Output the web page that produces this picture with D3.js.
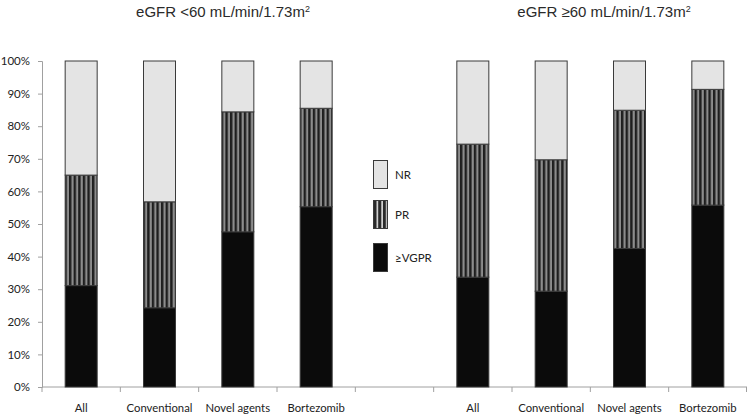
<!DOCTYPE html>
<html>
<head>
<meta charset="utf-8">
<script src="https://cdn.jsdelivr.net/npm/d3@7"></script>
<style>
  html, body { margin: 0; padding: 0; background: #fff; }
  svg { display: block; }
</style>
</head>
<body>
<svg id="chart" width="747" height="417"></svg>
<script>
// ---- Data ----
const categories = ["All", "Conventional", "Novel agents", "Bortezomib", "", "All ", "Conventional ", "Novel agents ", "Bortezomib "];
const tickLabels = ["All", "Conventional", "Novel agents", "Bortezomib", "", "All", "Conventional", "Novel agents", "Bortezomib"];
const vgpr = [31.1, 24.3, 47.6, 55.3, null, 33.7, 29.4, 42.5, 55.8];
const pr   = [33.9, 32.5, 36.8, 30.2, null, 40.8, 40.3, 42.4, 35.5];
const nr   = [35.0, 43.2, 15.6, 14.5, null, 25.5, 30.3, 15.1, 8.7];
const seriesNames = ["≥VGPR", "PR", "NR"];
const yTicks = [0, 10, 20, 30, 40, 50, 60, 70, 80, 90, 100];
const groupTitles = ["eGFR <60 mL/min/1.73m", "eGFR ≥60 mL/min/1.73m"];

// ---- Layout ----
const svg = d3.select("#chart");
const mLeft = 42, mRight = 747, mTop = 61, mBottom = 387;
const labelFont = "Lato, 'Open Sans', sans-serif";

const x = d3.scaleBand().domain(categories).range([mLeft, mRight]).paddingInner(0).paddingOuter(0);
const barW = 32;
const y = d3.scaleLinear().domain([0, 100]).range([mBottom, mTop]);

// patterns
const defs = svg.append("defs");
const pat = defs.append("pattern").attr("id", "stripes").attr("patternUnits", "userSpaceOnUse")
  .attr("width", 4.6).attr("height", 10);
pat.append("rect").attr("width", 4.6).attr("height", 10).attr("fill", "#1e1e1e");
pat.append("rect").attr("x", 2.4).attr("width", 2.2).attr("height", 10).attr("fill", "#8c8c8c");

const patL = defs.append("pattern").attr("id", "stripesLegend").attr("patternUnits", "userSpaceOnUse")
  .attr("width", 4.7).attr("height", 10).attr("x", 373.5);
patL.append("rect").attr("width", 4.7).attr("height", 10).attr("fill", "#2a2a2a");
patL.append("rect").attr("x", 3.2).attr("width", 1.4).attr("height", 10).attr("fill", "#f4f4f4");

const fills = { "≥VGPR": "#0b0b0b", "PR": "url(#stripes)", "NR": "#e4e4e4" };

// stacked data
const rows = categories.map((c, i) => ({ cat: c, "≥VGPR": vgpr[i], "PR": pr[i], "NR": nr[i] }))
  .filter(r => r["≥VGPR"] !== null);
const stack = d3.stack().keys(seriesNames)(rows);

// axes
const yAxis = d3.axisLeft(y).tickValues(yTicks).tickFormat(d => d + "%").tickSize(4).tickPadding(8);
const gy = svg.append("g").attr("transform", `translate(${mLeft},0)`).call(yAxis);
gy.select(".domain").attr("stroke", "#a0a0a0");
gy.selectAll(".tick line").attr("stroke", "#a0a0a0");
gy.selectAll(".tick text").attr("font-family", labelFont).attr("font-size", 11.5).attr("fill", "#222");

const xAxisG = svg.append("g").attr("transform", `translate(0,${mBottom})`);
xAxisG.append("line").attr("x1", mLeft).attr("x2", mRight).attr("stroke", "#a0a0a0");
const bounds = categories.map(c => x(c)).concat([mRight - 0.5]);
xAxisG.selectAll(".xt").data(bounds).join("line")
  .attr("x1", d => d).attr("x2", d => d).attr("y1", 0).attr("y2", 5).attr("stroke", "#a0a0a0");
xAxisG.selectAll(".xl").data(categories).join("text")
  .attr("x", d => x(d) + x.bandwidth() / 2)
  .attr("y", 25)
  .attr("text-anchor", "middle")
  .attr("font-family", labelFont).attr("font-size", 11.3).attr("fill", "#222")
  .text((d, i) => tickLabels[i]);

// bars
svg.append("g").selectAll("g").data(stack).join("g")
  .attr("fill", d => fills[d.key])
  .selectAll("rect").data(d => d).join("rect")
  .attr("x", d => x(d.data.cat) + x.bandwidth() / 2 - barW / 2)
  .attr("width", barW)
  .attr("y", d => y(d[1]))
  .attr("height", d => y(d[0]) - y(d[1]))
  .attr("stroke", "#3a3a3a").attr("stroke-width", 1);

// titles
const titleX = [223, 604];
groupTitles.forEach((t, i) => {
  const tx = svg.append("text").attr("x", titleX[i]).attr("y", 17)
    .attr("text-anchor", "middle")
    .attr("font-family", "'Liberation Sans', Arial, sans-serif").attr("font-size", 15).attr("fill", "#2a2a2a");
  tx.append("tspan").text(t);
  tx.append("tspan").attr("font-size", 9).attr("dy", -5).text("2");
});

// legend
const legendOrder = ["NR", "PR", "≥VGPR"];
const legendY = [160, 200, 243];
const lg = svg.append("g");
legendOrder.forEach((k, i) => {
  lg.append("rect").attr("x", 373.5).attr("y", legendY[i] + 0.5).attr("width", 14).attr("height", 28)
    .attr("fill", k === "PR" ? "url(#stripesLegend)" : fills[k])
    .attr("stroke", "#3a3a3a").attr("stroke-width", 1);
  lg.append("text").attr("x", 395).attr("y", legendY[i] + 19)
    .attr("font-family", labelFont).attr("font-size", 11.5).attr("fill", "#222").text(k);
});
</script>
</body>
</html>
